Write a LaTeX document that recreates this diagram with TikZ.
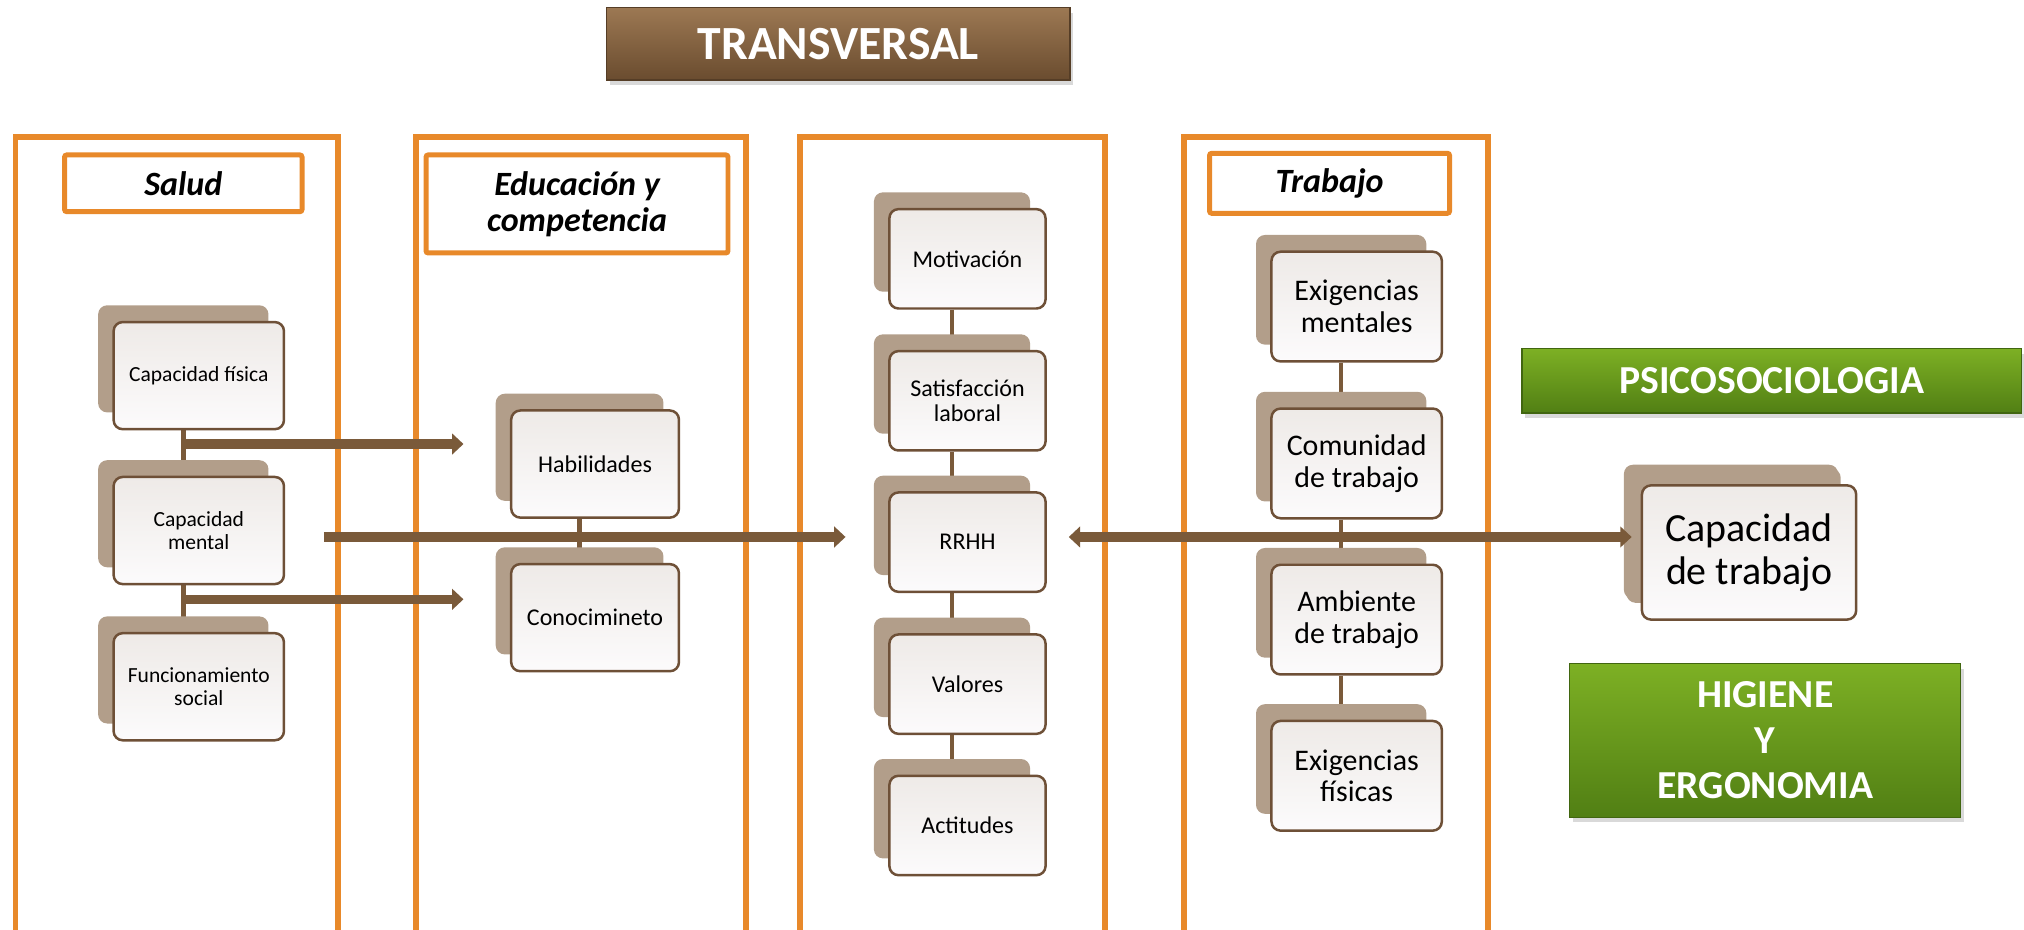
\documentclass[tikz,border=0pt]{standalone}
\usepackage{fontspec}
\setmainfont{Carlito}
\usepackage{tikz}
\usetikzlibrary{calc,arrows.meta,shadows,backgrounds}
\definecolor{naranja}{HTML}{E8892A}
\definecolor{marron}{HTML}{7A5A3A}
\definecolor{borde}{HTML}{6E5037}
\definecolor{tostado}{HTML}{B29E8A}
\definecolor{cajaA}{HTML}{EEEAE7}
\definecolor{cajaB}{HTML}{FCFBFC}
\definecolor{cafeA}{HTML}{9C7853}
\definecolor{cafeB}{HTML}{6A4C2F}
\definecolor{verdeA}{HTML}{7DB024}
\definecolor{verdeB}{HTML}{517F14}
\newcommand{\tam}[2]{\fontsize{#1}{#2}\selectfont}

\begin{document}
\begin{tikzpicture}[x=0.02cm,y=-0.02cm,
	columna/.style={draw=naranja,line width=2.6pt},
	titulo/.style={draw=naranja,line width=2.2pt,fill=white,rounded corners=1pt,align=center,font=\tam{15}{16}\bfseries\itshape},
	caja/.style={draw=borde,line width=1.1pt,rounded corners=4pt,top color=cajaA,bottom color=cajaB,align=center,inner sep=2pt,
		copy shadow={shadow xshift=-0.24cm,shadow yshift=0.26cm,fill=tostado,draw=none}},
	caja1/.style={caja,minimum width=2.64cm,minimum height=1.66cm,font=\tam{9.5}{10}},
	caja2/.style={caja,minimum width=2.6cm,minimum height=1.66cm,font=\tam{10.6}{11.4}},
	caja3/.style={caja,minimum width=2.42cm,minimum height=1.54cm,font=\tam{10.6}{11.4}},
	caja4/.style={caja,minimum width=2.64cm,minimum height=1.7cm,font=\tam{13.2}{14}},
	enlace/.style={draw=marron,line width=2pt},
	flecha/.style={draw=marron,line width=4pt,-{Triangle[length=5pt,width=9pt]}},
	barra/.style={draw=cafeB!80!black,line width=0.5pt,top color=cafeA,bottom color=cafeB,text=white,
		font=\tam{21}{24}\bfseries,drop shadow={opacity=0.3,shadow xshift=0.05cm,shadow yshift=-0.08cm}},
	verde/.style={barra,top color=verdeA,bottom color=verdeB,draw=verdeB!80!black,align=center,font=\tam{17.5}{20}\bfseries}]
	\useasboundingbox (0,0) rectangle (1568,720);

	% columnas
	\foreach \xa/\xb in {12/262,322/578,620/856,917/1153}
		\draw[columna] (\xa,722) |- (\xb,106) -- (\xb,722);

	\node[barra,minimum width=7.18cm,minimum height=1.12cm] (transv) at (649.5,34) {TRANSVERSAL};
	\node[titulo,minimum width=3.68cm,minimum height=0.88cm] (salud) at (142,142) {Salud};
	\node[titulo,minimum width=4.68cm,minimum height=1.52cm] (educ) at (447,158) {Educación y\\competencia};
	\node[titulo,minimum width=3.72cm,minimum height=0.93cm] (trabajo) at (1030,142) {Trabajo};

	% salud
	\node[caja1] (fisica) at (154,291) {Capacidad física};
	\node[caja1] (mental) at (154,411) {Capacidad\\mental};
	\node[caja1] (social) at (154,532) {Funcionamiento\\social};
	% educacion
	\node[caja2] (habil) at (461,359.5) {Habilidades};
	\node[caja2] (conoc) at (461,478.5) {Conocimineto};
	% centro
	\node[caja3] (motiv) at (749.5,200.5) {Motivación};
	\node[caja3] (satisf) at (749.5,310.5) {Satisfacción\\laboral};
	\node[caja3] (rrhh) at (749.5,420) {RRHH};
	\node[caja3] (valores) at (749.5,530) {Valores};
	\node[caja3] (actit) at (749.5,639.5) {Actitudes};
	% trabajo
	\node[caja4] (exmen) at (1051,237.5) {Exigencias\\mentales};
	\node[caja4] (comun) at (1051,359) {Comunidad\\de trabajo};
	\node[caja4] (ambien) at (1051,480) {Ambiente\\de trabajo};
	\node[caja4] (exfis) at (1051,601) {Exigencias\\físicas};

	\node[caja,minimum width=3.32cm,minimum height=2.08cm,font=\tam{17.6}{19},
		copy shadow={shadow xshift=-0.28cm,shadow yshift=0.32cm,fill=tostado,draw=none}] (captrab) at (1355,428) {Capacidad\\de trabajo};
	\node[verde,minimum width=7.74cm,minimum height=1cm] (psico) at (1372.5,295) {PSICOSOCIOLOGIA};
	\node[verde,minimum width=6.06cm,minimum height=2.38cm] (higiene) at (1367.5,573.5) {HIGIENE\\Y\\ERGONOMIA};

	\begin{pgfonlayer}{background}
	\foreach \a/\b in {fisica/mental,mental/social,habil/conoc,motiv/satisf,satisf/rrhh,rrhh/valores,valores/actit,exmen/comun,comun/ambien,ambien/exfis}
		\draw[enlace] ([xshift=-0.24cm]\a.south) -- ([xshift=-0.24cm]\b.north);
	\end{pgfonlayer}

	\coordinate (f1) at ($([xshift=-0.24cm]fisica.south)!0.3!([xshift=-0.24cm]mental.north)$);
	\coordinate (f2) at ($([xshift=-0.24cm]mental.south)!0.3!([xshift=-0.24cm]social.north)$);
	\coordinate (h1) at ([xshift=-0.72cm]habil.west);
	\coordinate (m1) at ([xshift=0.6cm,yshift=-0.1cm]mental.east);
	\draw[flecha] (f1) -- (f1 -| h1);
	\draw[flecha] (f2) -- (f2 -| h1);
	\draw[flecha,shorten >=0.66cm] (m1) -- (m1 -| rrhh.west);
	\draw[flecha,{Triangle[length=5pt,width=9pt]}-{Triangle[length=5pt,width=9pt]},shorten <=0.34cm,shorten >=0.14cm] (m1 -| rrhh.east) -- (m1 -| captrab.west);
\end{tikzpicture}
\end{document}
